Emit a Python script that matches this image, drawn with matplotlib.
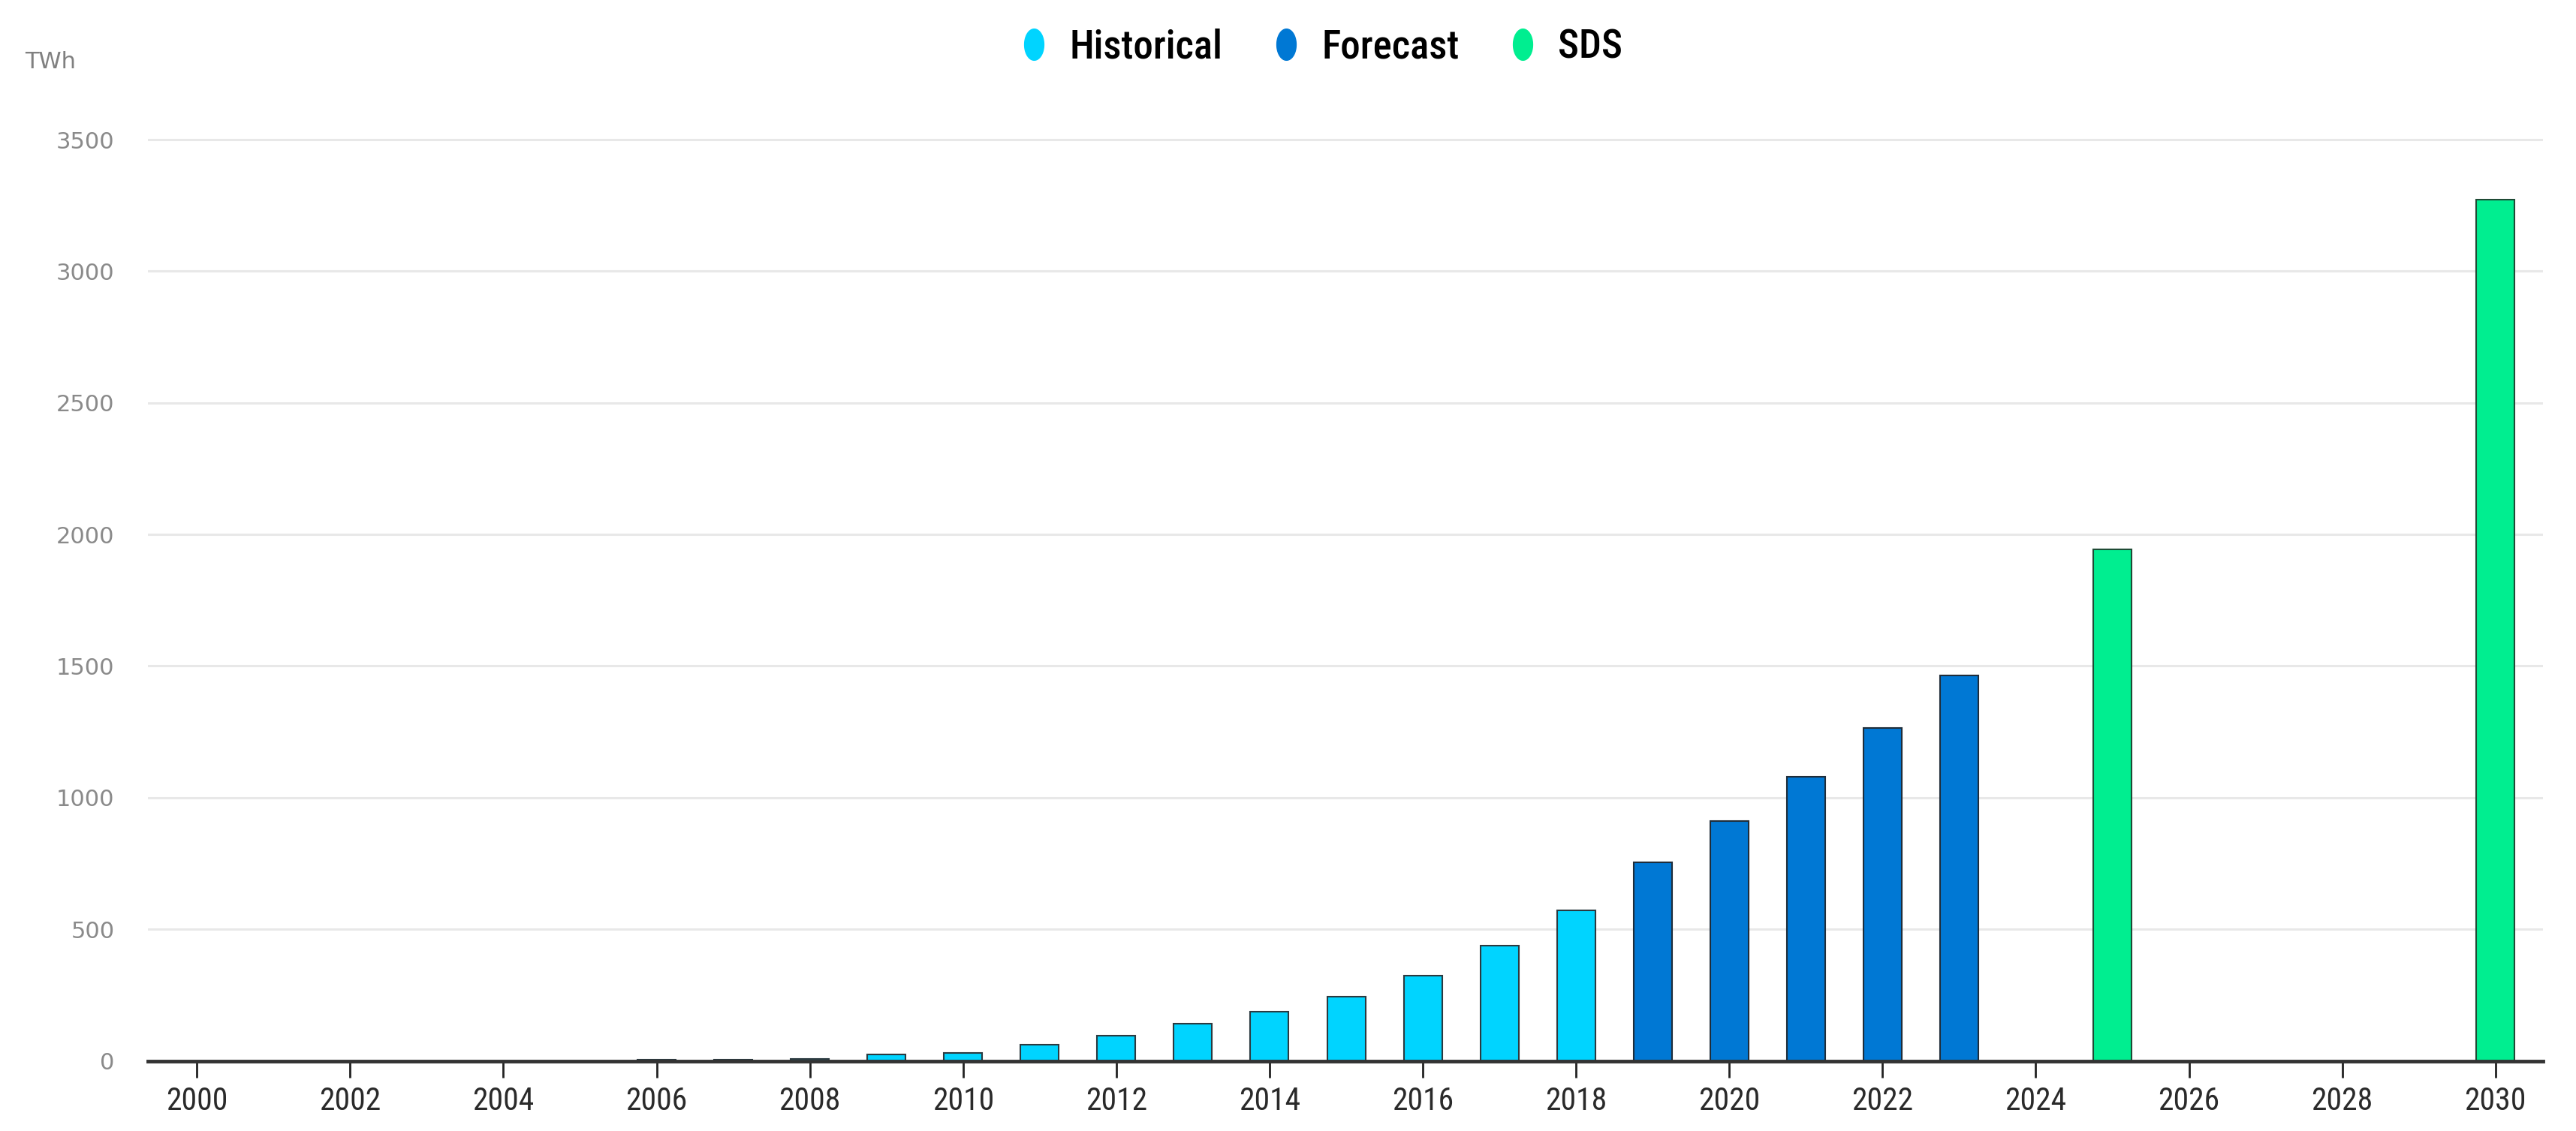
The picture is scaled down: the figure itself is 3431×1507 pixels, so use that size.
import matplotlib
matplotlib.use("Agg")
import matplotlib.pyplot as plt
from matplotlib.lines import Line2D
from matplotlib import font_manager
import numpy as np

# ---- data ----
hist_years = [2006, 2007, 2008, 2009, 2010, 2011, 2012, 2013, 2014, 2015, 2016, 2017, 2018]
hist_values = [5, 5, 6, 25, 31, 62, 95, 142, 188, 245, 325, 437, 572]
fc_years = [2019, 2020, 2021, 2022, 2023]
fc_values = [753, 912, 1080, 1264, 1463]
sds_years = [2025, 2030]
sds_values = [1942, 3272]
series_names = ["Historical", "Forecast", "SDS"]
x_ticks = list(range(2000, 2031, 2))
y_ticks = [0, 500, 1000, 1500, 2000, 2500, 3000, 3500]
unit_label = "TWh"

colors = {"Historical": "#00D4FF", "Forecast": "#0078D4", "SDS": "#00EE90"}
installed = {f.name for f in font_manager.fontManager.ttflist}
cands = ["Roboto Condensed", "Liberation Sans Narrow", "Liberation Sans"]
narrow_name = next(c for c in cands if c in installed)
narrow = [narrow_name, "DejaVu Sans"]

fig = plt.figure(figsize=(34.31, 15.07), dpi=100)
ax = fig.add_axes([0.0574, 0.0620, 0.9298, 0.8378])

bw = 0.5
ax.bar(hist_years, hist_values, width=bw, color=colors["Historical"],
       edgecolor="#2b3a40", linewidth=1.5, zorder=3)
ax.bar(fc_years, fc_values, width=bw, color=colors["Forecast"],
       edgecolor="#1f2d3a", linewidth=1.5, zorder=3)
ax.bar(sds_years, sds_values, width=bw, color=colors["SDS"],
       edgecolor="#1f4a35", linewidth=1.5, zorder=3)

ax.set_xlim(1999.36, 2030.62)
ax.set_ylim(0, 3600)

for s in ["top", "right", "left"]:
    ax.spines[s].set_visible(False)
ax.spines["bottom"].set_color("#333333")
ax.spines["bottom"].set_linewidth(3.5)
ax.spines["bottom"].set_zorder(4)

ax.set_yticks(y_ticks)
ax.set_yticklabels([str(v) for v in y_ticks])
ax.tick_params(axis="y", length=0, pad=32, labelsize=22, labelcolor="#8a8a8a")
ax.yaxis.grid(True, color="#e8e8e8", linewidth=2.2, zorder=0)
ax.set_axisbelow(True)

ax.set_xticks(x_ticks)
ax.set_xticklabels([str(v) for v in x_ticks])
ax.tick_params(axis="x", length=16, width=2, color="#222222", pad=8,
               labelsize=30, labelcolor="#2a2a2a")
for lab in ax.get_xticklabels():
    lab.set_family(narrow)

fig.text(0.0096, 0.945, unit_label, fontsize=22, color="#808080",
         ha="left", va="center")

# legend with tall oval markers
t = np.linspace(0, 2 * np.pi, 60)
oval = list(zip(0.62 * np.cos(t), np.sin(t)))
handles = [Line2D([], [], linestyle="none", marker=oval, markersize=30,
                  markerfacecolor=colors[n], markeredgecolor=colors[n])
           for n in series_names]
leg = fig.legend(handles, series_names, loc="center", ncol=3,
                 bbox_to_anchor=(0.511, 0.958), frameon=False,
                 handletextpad=0.3, columnspacing=1.0, handlelength=1.2,
                 prop={"family": narrow, "size": 38, "weight": "medium"})

fig.savefig("out.png", dpi=100, facecolor="white")
